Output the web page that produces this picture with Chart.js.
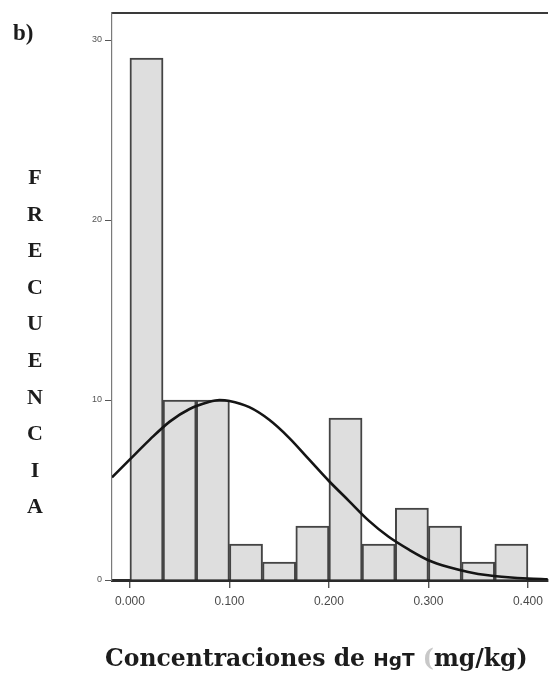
<!DOCTYPE html>
<html>
<head>
<meta charset="utf-8">
<script src="https://cdn.jsdelivr.net/npm/chart.js@4.4.1/dist/chart.umd.min.js"></script>
<style>
  html, body { margin: 0; padding: 0; background: #ffffff; }
  #wrap { position: relative; width: 549px; height: 679px; overflow: hidden; }
  #chart { position: absolute; left: 0; top: 0; }
  .t { position: absolute; color: #1c1c1c; white-space: nowrap; }
  #panel { left: 13px; top: 21px; font: bold 23px "Liberation Serif", serif; line-height: 1; }
  #ytitle { left: 23px; top: 159px; width: 24px; text-align: center;
            font: bold 22px "Liberation Serif", serif; line-height: 36.6px; }
  #xtitle { left: 105px; top: 647px; font: bold 23.5px "DejaVu Serif", serif; line-height: 1; }
  #xtitle .sym { font: bold 18.5px "DejaVu Sans", sans-serif; }
  #xtitle .faint { color: #c8c8c8; }
</style>
</head>
<body>
<div id="wrap">
  <canvas id="chart" width="549" height="679"></canvas>
  <div class="t" id="panel">b)</div>
  <div class="t" id="ytitle">F<br>R<br>E<br>C<br>U<br>E<br>N<br>C<br>I<br>A</div>
  <div class="t" id="xtitle">Concentraciones de <span class="sym">HgT</span> <span class="faint">(</span>mg/kg)</div>
</div>
<script>
// Histogram of total mercury concentrations (mg/kg), bins of 0.0333
const binLower = [0.0000, 0.0333, 0.0667, 0.1000, 0.1333, 0.1667,
                  0.2000, 0.2333, 0.2667, 0.3000, 0.3333, 0.3667];
const binWidth = 0.03333;
const frequencies = [29, 10, 10, 2, 1, 3, 9, 2, 4, 3, 1, 2];

// Fitted normal curve, read point by point
const curveX = [-0.018, 0.000, 0.020, 0.040, 0.060, 0.080, 0.090, 0.100, 0.120,
                0.140, 0.160, 0.180, 0.200, 0.220, 0.240, 0.260, 0.280, 0.300,
                0.320, 0.340, 0.360, 0.380, 0.400, 0.420];
const curveY = [5.7, 6.7, 7.8, 8.8, 9.5, 9.9, 10.0, 9.95, 9.6,
                8.9, 7.9, 6.7, 5.5, 4.4, 3.3, 2.4, 1.7, 1.1,
                0.72, 0.45, 0.26, 0.15, 0.08, 0.04];

// Axis ticks
const xTickValues = [0.0, 0.1, 0.2, 0.3, 0.4];
const xTickLabels = ['0.000', '0.100', '0.200', '0.300', '0.400'];
const yTickValues = [0, 10, 20, 30];
const yTickLabels = ['0', '10', '20', '30'];

const X_MIN = -0.018, X_MAX = 0.42;
const Y_MIN = 0, Y_MAX = 31.5;

const barPoints = binLower.map((lo, i) => ({ x: lo + binWidth / 2, y: frequencies[i] }));
const curvePoints = curveX.map((x, i) => ({ x: x, y: curveY[i] }));

new Chart(document.getElementById('chart'), {
  data: {
    datasets: [
      {
        type: 'line',
        data: curvePoints,
        borderColor: '#151515',
        borderWidth: 2.6,
        pointRadius: 0,
        fill: false,
        cubicInterpolationMode: 'monotone',
        order: 0
      },
      {
        type: 'bar',
        data: barPoints,
        backgroundColor: '#dedede',
        borderColor: '#444444',
        borderWidth: 2,
        barPercentage: 1,
        categoryPercentage: 1,
        order: 1
      }
    ]
  },
  options: {
    responsive: false,
    animation: false,
    layout: { padding: 0 },
    plugins: { legend: { display: false }, tooltip: { enabled: false } },
    scales: {
      x: {
        type: 'linear',
        position: 'bottom',
        offset: false,
        min: X_MIN, max: X_MAX,
        afterBuildTicks: s => { s.ticks = xTickValues.map(v => ({ value: v })); },
        afterFit: s => { s.height = 99; },
        ticks: {
          callback: (v, i) => xTickLabels[i],
          font: { family: 'Liberation Sans', size: 12 },
          color: '#4a4a4a',
          padding: 6,
          maxRotation: 0
        },
        grid: { offset: false, drawOnChartArea: false, tickLength: 8, color: '#555', lineWidth: 1.4 },
        border: { display: true, color: '#2a2a2a', width: 3 }
      },
      xTop: {
        type: 'linear',
        position: 'top',
        offset: false,
        min: X_MIN, max: X_MAX,
        afterFit: s => { s.height = 13; },
        ticks: { display: false },
        grid: { offset: false, drawOnChartArea: false, drawTicks: false },
        border: { display: true, color: '#3a3a3a', width: 2 }
      },
      y: {
        type: 'linear',
        position: 'left',
        min: Y_MIN, max: Y_MAX,
        afterBuildTicks: s => { s.ticks = yTickValues.map(v => ({ value: v })); },
        afterFit: s => { s.width = 112; },
        ticks: {
          callback: (v, i) => yTickLabels[i],
          font: { family: 'Liberation Sans', size: 9 },
          color: '#555',
          padding: 3
        },
        grid: { drawOnChartArea: false, tickLength: 7, color: '#555', lineWidth: 1 },
        border: { display: true, color: '#7a7a7a', width: 1.2 }
      }
    }
  }
});
</script>
</body>
</html>
